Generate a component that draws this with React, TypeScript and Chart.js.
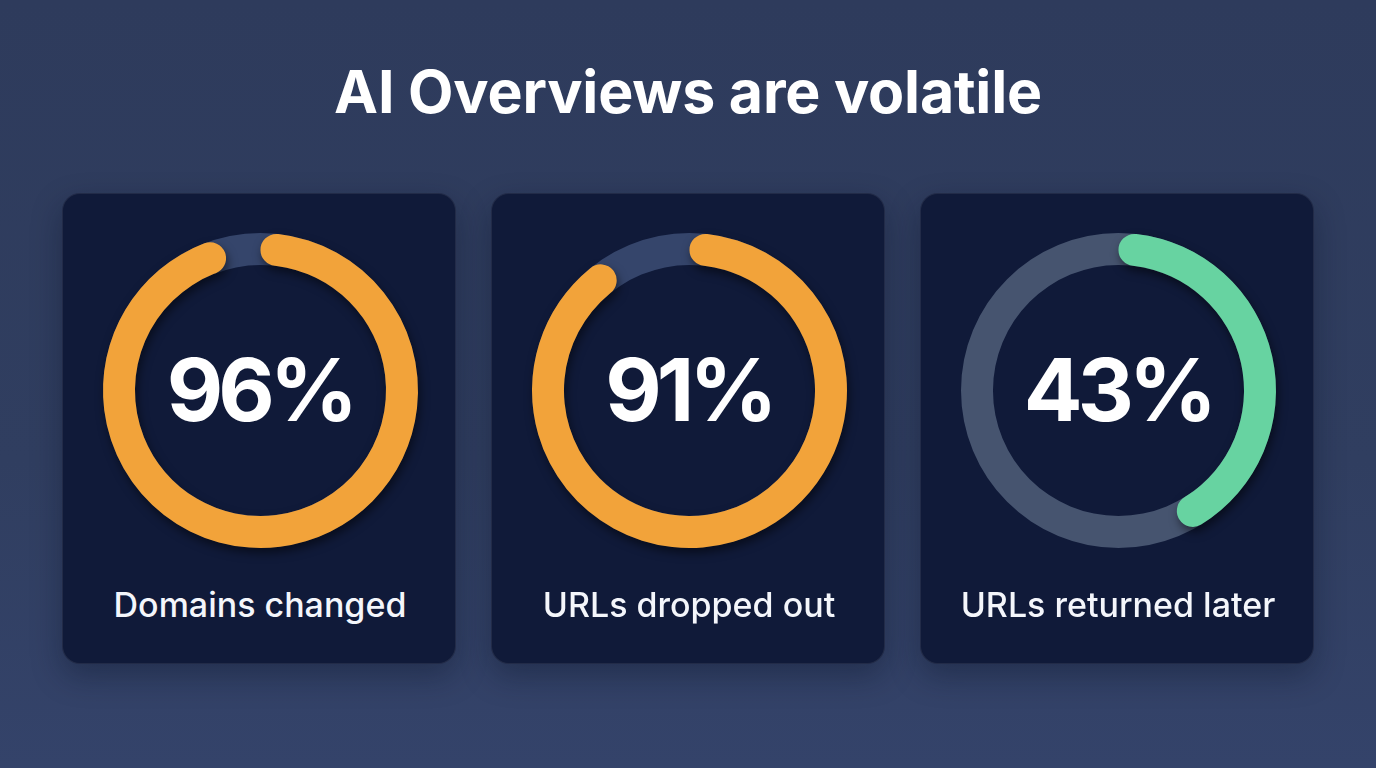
import React, { useEffect, useRef } from "react";
import { Chart, registerables } from "chart.js";

Chart.register(...registerables);

const TITLE = "AI Overviews are volatile";
const labels = ["Domains changed", "URLs dropped out", "URLs returned later"];
const values = [96, 91, 43];
const colors = ["#F2A33A", "#F2A33A", "#67D3A1"];
const trackColors = ["#35456B", "#35456B", "#46546F"];

const trackPlugin = {
  id: "track",
  beforeDatasetsDraw(chart: any) {
    const meta = chart.getDatasetMeta(0);
    const arc = meta.data[0];
    if (!arc) return;
    const { x, y, innerRadius, outerRadius } = arc.getProps(["x", "y", "innerRadius", "outerRadius"], true);
    const ctx = chart.ctx;
    ctx.save();
    ctx.beginPath();
    ctx.arc(x, y, outerRadius, 0, Math.PI * 2);
    ctx.arc(x, y, innerRadius, Math.PI * 2, 0, true);
    ctx.closePath();
    ctx.fillStyle = chart.options.plugins.track.color;
    ctx.fill();
    ctx.restore();
  },
  beforeDatasetDraw(chart: any) {
    const ctx = chart.ctx;
    ctx.save();
    ctx.shadowColor = "rgba(0,0,0,0.5)";
    ctx.shadowBlur = 10;
    ctx.shadowOffsetX = 2;
    ctx.shadowOffsetY = 5;
  },
  afterDatasetDraw(chart: any) {
    chart.ctx.restore();
  },
};

function Ring({ value, color, track }: { value: number; color: string; track: string }) {
  const ref = useRef<HTMLCanvasElement>(null);
  useEffect(() => {
    if (!ref.current) return;
    const chart = new Chart(ref.current, {
      type: "doughnut",
      data: {
        labels: ["value", "rest"],
        datasets: [
          {
            data: [value, 100 - value],
            backgroundColor: [color, "rgba(0,0,0,0)"],
            borderWidth: 0,
            borderRadius: (c: any) => (c.dataIndex === 0 ? 16 : 0),
          } as any,
        ],
      },
      options: {
        responsive: false,
        animation: false,
        cutout: "79.7%",
        layout: { padding: 22 },
        plugins: {
          legend: { display: false },
          tooltip: { enabled: false },
          track: { color: track },
        } as any,
      },
      plugins: [trackPlugin as any],
    });
    return () => chart.destroy();
  }, [value, color, track]);
  return <canvas ref={ref} width={359} height={359} style={{ display: "block" }} />;
}

const cardLefts = [62, 491, 920];
const CARD_W = 394;
const CARD_TOP = 193;
const CARD_H = 471;

export default function App() {
  return (
    <div
      style={{
        position: "absolute",
        left: 0,
        top: 0,
        width: 1376,
        height: 768,
        overflow: "hidden",
        background: "linear-gradient(180deg, #2E3B5C 0%, #303E60 60%, #34436A 100%)",
        fontFamily: "Inter, 'Noto Sans', sans-serif",
        color: "#FFFFFF",
      }}
    >
      <div
        style={{
          position: "absolute",
          left: 0,
          width: 1376,
          top: 56,
          textAlign: "center",
          fontSize: 59,
          fontWeight: 700,
          lineHeight: "72px",
          letterSpacing: "-0.2px",
        }}
      >
        {TITLE}
      </div>
      {labels.map((lab, i) => (
        <div
          key={lab}
          style={{
            position: "absolute",
            left: cardLefts[i],
            top: CARD_TOP,
            width: CARD_W,
            height: CARD_H,
            borderRadius: 18,
            background: "#101A39",
            border: "1px solid rgba(255,255,255,0.08)",
            boxSizing: "border-box",
            boxShadow: "0 12px 30px rgba(10,16,36,0.35)",
          }}
        >
          <div style={{ position: "absolute", left: CARD_W / 2 - 179.5, top: 389.5 - CARD_TOP - 179.5 }}>
            <Ring value={values[i]} color={colors[i]} track={trackColors[i]} />
          </div>
          <div
            style={{
              position: "absolute",
              left: 0,
              width: CARD_W,
              top: 389 - CARD_TOP - 50,
              height: 100,
              lineHeight: "100px",
              textAlign: "center",
              fontSize: 87,
              fontWeight: 700,
              letterSpacing: "-5px",
            }}
          >
            {values[i]}%
          </div>
          <div
            style={{
              position: "absolute",
              left: 0,
              width: CARD_W,
              top: 584 - CARD_TOP,
              height: 40,
              lineHeight: "40px",
              textAlign: "center",
              fontSize: 34,
              fontWeight: 500,
              color: "#F4F6FB",
            }}
          >
            {lab}
          </div>
        </div>
      ))}
    </div>
  );
}
